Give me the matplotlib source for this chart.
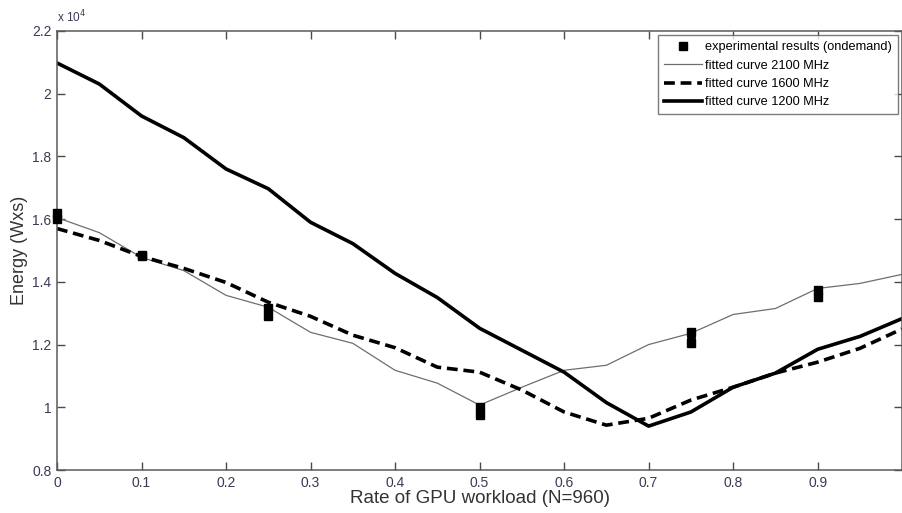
import matplotlib.pyplot as plt
import numpy as np
from matplotlib.ticker import FuncFormatter

plt.rcParams['font.family'] = ['Liberation Sans', 'DejaVu Sans']

# workload rate, steps of 0.05
rate = np.round(np.arange(0, 1.0001, 0.05), 2)

# fitted curves (Energy in W x s)
f2100 = [16050, 15570, 14780, 14360, 13570, 13190, 12390, 12040, 11180, 10770, 10070,
         10640, 11180, 11340, 12000, 12360, 12960, 13150, 13790, 13950, 14240]
f1600 = [15700, 15320, 14810, 14430, 13980, 13350, 12900, 12300, 11900, 11280, 11120,
         10550, 9850, 9430, 9650, 10230, 10640, 11090, 11440, 11880, 12500]
f1200 = [20980, 20310, 19290, 18600, 17600, 16970, 15900, 15220, 14270, 13500, 12520,
         11820, 11120, 10150, 9400, 9850, 10640, 11090, 11850, 12260, 12830]

# experimental results (ondemand): low / high reading per point
exp_x = [0, 0.1, 0.25, 0.5, 0.75, 0.9]
exp_lo = [16000, 14830, 12920, 9760, 12060, 13520]
exp_hi = [16190, 14860, 13170, 10020, 12410, 13740]

fig = plt.figure(figsize=(9.03, 5.13), dpi=100)
ax = fig.add_axes([0.0631, 0.0838, 0.936, 0.8558])

ms = 6.3
p_exp, = ax.plot(exp_x, exp_hi, 's', color='black', markersize=ms, linestyle='none',
                 clip_on=False, zorder=5)
ax.plot(exp_x, exp_lo, 's', color='black', markersize=ms, linestyle='none',
        clip_on=False, zorder=5)
ax.vlines(exp_x, exp_lo, exp_hi, color='black', lw=ms, clip_on=False, zorder=5)
p21, = ax.plot(rate, f2100, '-', color='#6e6e6e', lw=0.9)
p16, = ax.plot(rate, f1600, '--', color='black', lw=2.6, dashes=(3.0, 1.6))
p12, = ax.plot(rate, f1200, '-', color='black', lw=2.6)

ax.set_xlim(0, 1)
ax.set_ylim(8000, 22000)
ax.set_xticks([0, 0.1, 0.2, 0.3, 0.4, 0.5, 0.6, 0.7, 0.8, 0.9])
ax.set_xticklabels(['0', '0.1', '0.2', '0.3', '0.4', '0.5', '0.6', '0.7', '0.8', '0.9'])
ax.set_yticks(np.arange(8000, 22001, 2000))
ax.yaxis.set_major_formatter(FuncFormatter(lambda v, p: '%g' % (v / 1e4)))
ax.tick_params(direction='in', length=6, width=1, top=True, right=True,
               labelsize=10, colors='#4a4a4a', labelcolor='#3a3a55', pad=4)
for s in ax.spines.values():
    s.set_color('#5a5a5a')
    s.set_linewidth(1.1)

ax.text(0.0, 1.012, 'x 10$^4$', transform=ax.transAxes, fontsize=8.5, color='#3a3a55',
        ha='left', va='bottom')
ax.set_xlabel('Rate of GPU workload (N=960)', fontsize=13.5, color='#333333', labelpad=0)
ax.set_ylabel('Energy (Wxs)', fontsize=13, color='#333333', labelpad=3)

leg = ax.legend([p_exp, p21, p16, p12],
                ['experimental results (ondemand)', 'fitted curve 2100 MHz',
                 'fitted curve 1600 MHz', 'fitted curve 1200 MHz'],
                loc='upper right', fontsize=9.2, frameon=True, fancybox=False,
                borderaxespad=0.35, handlelength=3.0, handletextpad=0.25,
                labelspacing=0.5, borderpad=0.45)
leg.get_frame().set_edgecolor('#5a5a5a')
leg.get_frame().set_linewidth(1.0)

plt.savefig('out.png', dpi=100)
